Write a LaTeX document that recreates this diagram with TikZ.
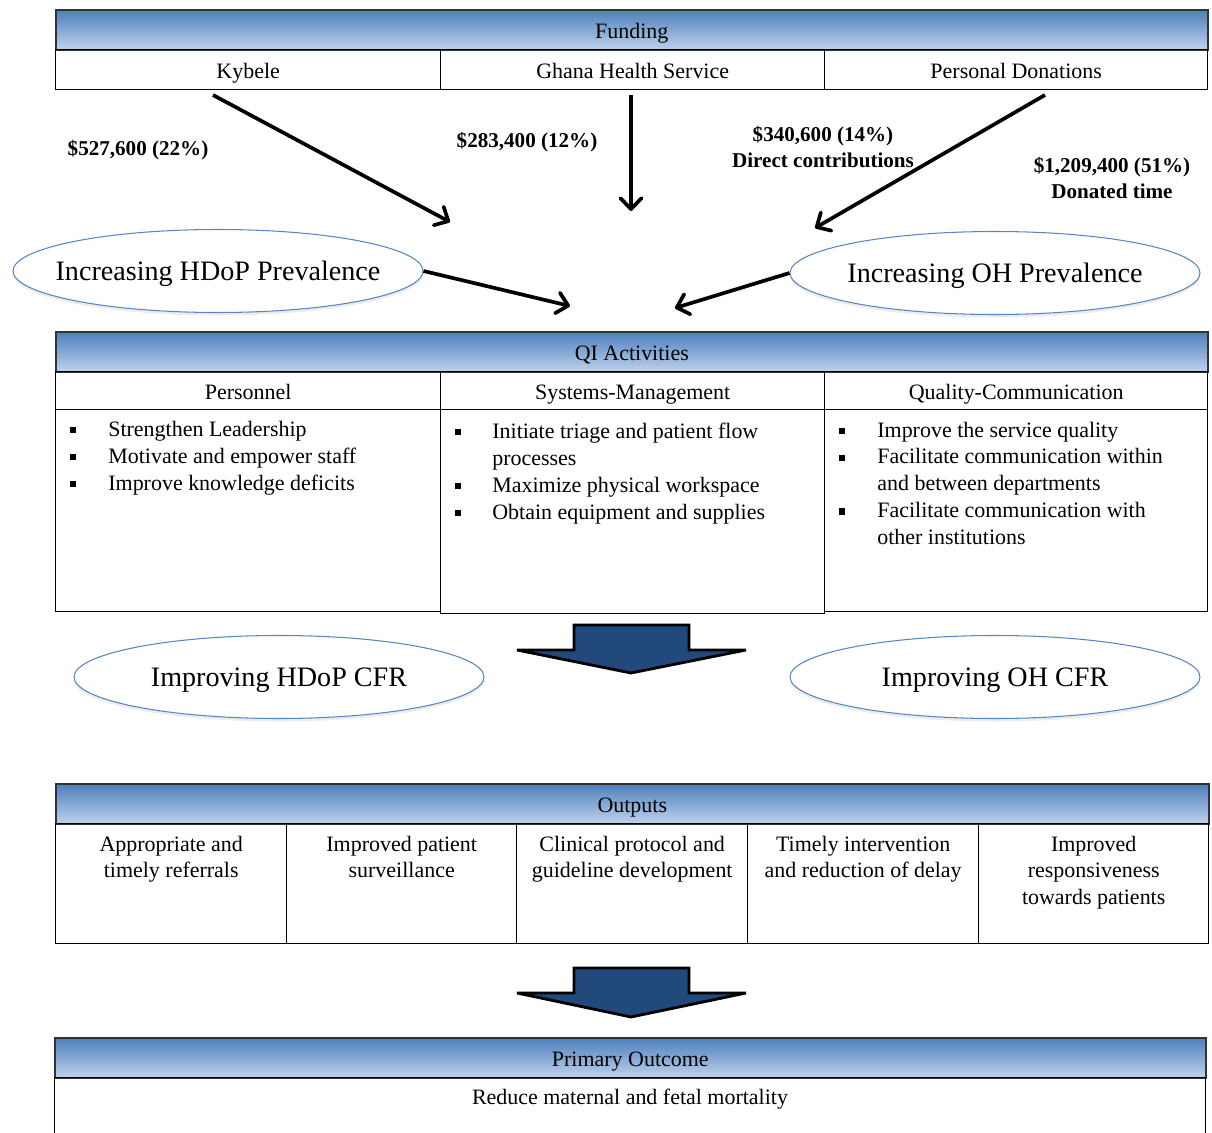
\documentclass[tikz,border=0pt]{standalone}
\usepackage{fontspec}
\setmainfont{Liberation Serif}
\usetikzlibrary{shapes.geometric,arrows.meta,shadows}
\definecolor{hdtop}{RGB}{76,127,188}
\definecolor{hdbot}{RGB}{192,210,236}
\definecolor{ovline}{RGB}{88,134,196}
\definecolor{blkarrow}{RGB}{33,73,123}
\tikzset{
  every node/.style={font=\fontsize{12.5}{15}\selectfont, inner sep=0pt},
  hdr/.style={draw=black!80, line width=0.9pt, top color=hdtop, middle color=hdtop!92!white, bottom color=hdbot, anchor=north west, minimum height=8mm, text height=3.9mm, text depth=0.4mm},
  cell/.style={draw, line width=0.8pt, anchor=north west, text height=3.9mm, text depth=0.4mm},
  oval/.style={ellipse, draw=ovline, line width=0.6pt, fill=white, minimum width=82mm, minimum height=16.6mm, inner xsep=-4mm, text height=4.2mm, text depth=0.6mm, font=\fontsize{16}{19}\selectfont, drop shadow={opacity=0.15, shadow xshift=0pt, shadow yshift=-0.6mm}},
  amt/.style={font=\fontsize{12}{14.8}\selectfont\bfseries},
  bul/.style={fill, minimum size=1.3mm},
  flow/.style={line width=2.1pt, -{Straight Barb[length=2.2mm, width=4.2mm, line width=2.1pt, round]}},
  block/.style={fill=blkarrow, draw, line width=1.6pt, line join=miter, miter limit=1.5}
}
\begin{document}
\begin{tikzpicture}[x=0.2mm, y=-0.2mm]
  \useasboundingbox (0,0) rectangle (1212,1133);
  \node[hdr, minimum width=230.4mm] (fund) at (55,9) {Funding};
  \node[cell, minimum width=77mm, minimum height=8mm] (kyb) at (55,49) {Kybele};
  \node[cell, minimum width=76.8mm, minimum height=8mm] (ghs) at (440,49) {Ghana Health Service};
  \node[cell, minimum width=76.6mm, minimum height=8mm] (don) at (824,49) {Personal Donations};
  \node[amt] (amt1) at (138,150) {\$527,600 (22\%)};
  \node[amt] (amt2) at (527,142) {\$283,400 (12\%)};
  \node[amt, align=center] (amt3) at (823,147) {\$340,600 (14\%)\\Direct contributions};
  \node[amt, align=center] (amt4) at (1112,178) {\$1,209,400 (51\%)\\Donated time};
  \coordinate (k0) at (213,95);
  \coordinate (k1) at (450,222);
  \coordinate (g0) at (631,95);
  \coordinate (g1) at (631,211);
  \coordinate (d0) at (1045,95);
  \coordinate (d1) at (815,228);
  \coordinate (h1) at (570,306);
  \coordinate (p1) at (675,308);
  \node[oval] (hinc) at (218,271) {Increasing HDoP Prevalence};
  \node[oval] (oinc) at (995,273) {Increasing OH Prevalence};
  \begin{scope}[flow]
    \draw (k0) -- (k1);
    \draw (g0) -- (g1);
    \draw (d0) -- (d1);
    \draw (hinc.east) -- (h1);
    \draw (oinc.west) -- (p1);
  \end{scope}
  \node[hdr, minimum width=230.4mm] (qi) at (55,331) {QI Activities};
  \node[cell, minimum width=77mm, minimum height=7.6mm] (pers) at (55,371) {Personnel};
  \node[cell, minimum width=76.8mm, minimum height=7.6mm] (sysm) at (440,371) {Systems-Management};
  \node[cell, minimum width=76.6mm, minimum height=7.6mm] (qcom) at (824,371) {Quality-Communication};
  \node[cell, minimum width=77mm, minimum height=40.4mm] (persb) at (55,409) {};
  \node[cell, minimum width=76.8mm, minimum height=40.8mm] (sysmb) at (440,409) {};
  \node[cell, minimum width=76.6mm, minimum height=40.4mm] (qcomb) at (824,409) {};
  \foreach \t [count=\i] in {Strengthen Leadership, Motivate and empower staff, Improve knowledge deficits} {
    \node[bul] (pb\i) at (73,{430+27*(\i-1)}) {};
    \node[anchor=base west] (pt\i) at (108,{436+27*(\i-1)}) {\t};
  }
  \foreach \t/\b [count=\i] in {Initiate triage and patient flow/1, processes/0, Maximize physical workspace/1, Obtain equipment and supplies/1} {
    \ifnum\b=1 \node[bul] (sb\i) at (458,{432+27*(\i-1)}) {}; \fi
    \node[anchor=base west] (st\i) at (492,{438+27*(\i-1)}) {\t};
  }
  \foreach \t/\b [count=\i] in {Improve the service quality/1, Facilitate communication within/1, and between departments/0, Facilitate communication with/1, other institutions/0} {
    \ifnum\b=1 \node[bul] (qb\i) at (842,{431+26.75*(\i-1)}) {}; \fi
    \node[anchor=base west] (qt\i) at (877,{437+26.75*(\i-1)}) {\t};
  }
  \filldraw[block] (574,625) -- (689,625) -- (689,650) -- (746,650) -- (631,673) -- (517,650) -- (574,650) -- cycle;
  \node[oval] (hcfr) at (279,677) {Improving HDoP CFR};
  \node[oval] (ocfr) at (995,677) {Improving OH CFR};
  \node[hdr, minimum width=230.6mm] (outp) at (55,783) {Outputs};
  \foreach \x/\w [count=\i] in {55/46.2, 286/46, 516/46.2, 747/46.2, 978/46} {
    \node[cell, minimum width=\w mm, minimum height=24mm] (out\i) at (\x,823) {};
  }
  \node[anchor=north, align=center] (ot1) at (out1.north |- 0,836) {Appropriate and\\timely referrals};
  \node[anchor=north, align=center] (ot2) at (out2.north |- 0,836) {Improved patient\\surveillance};
  \node[anchor=north, align=center] (ot3) at (out3.north |- 0,836) {Clinical protocol and\\guideline development};
  \node[anchor=north, align=center] (ot4) at (out4.north |- 0,836) {Timely intervention\\and reduction of delay};
  \node[anchor=north, align=center] (ot5) at (out5.north |- 0,836) {Improved\\responsiveness\\towards patients};
  \filldraw[block] (574,968) -- (689,968) -- (689,993) -- (746,993) -- (631,1017) -- (517,993) -- (574,993) -- cycle;
  \node[hdr, minimum width=230.2mm] (prim) at (54,1037) {Primary Outcome};
  \node[cell, minimum width=230.2mm, minimum height=16mm] (primb) at (54,1077) {};
  \node (primt) at (630,1099) {Reduce maternal and fetal mortality};
\end{tikzpicture}
\end{document}
